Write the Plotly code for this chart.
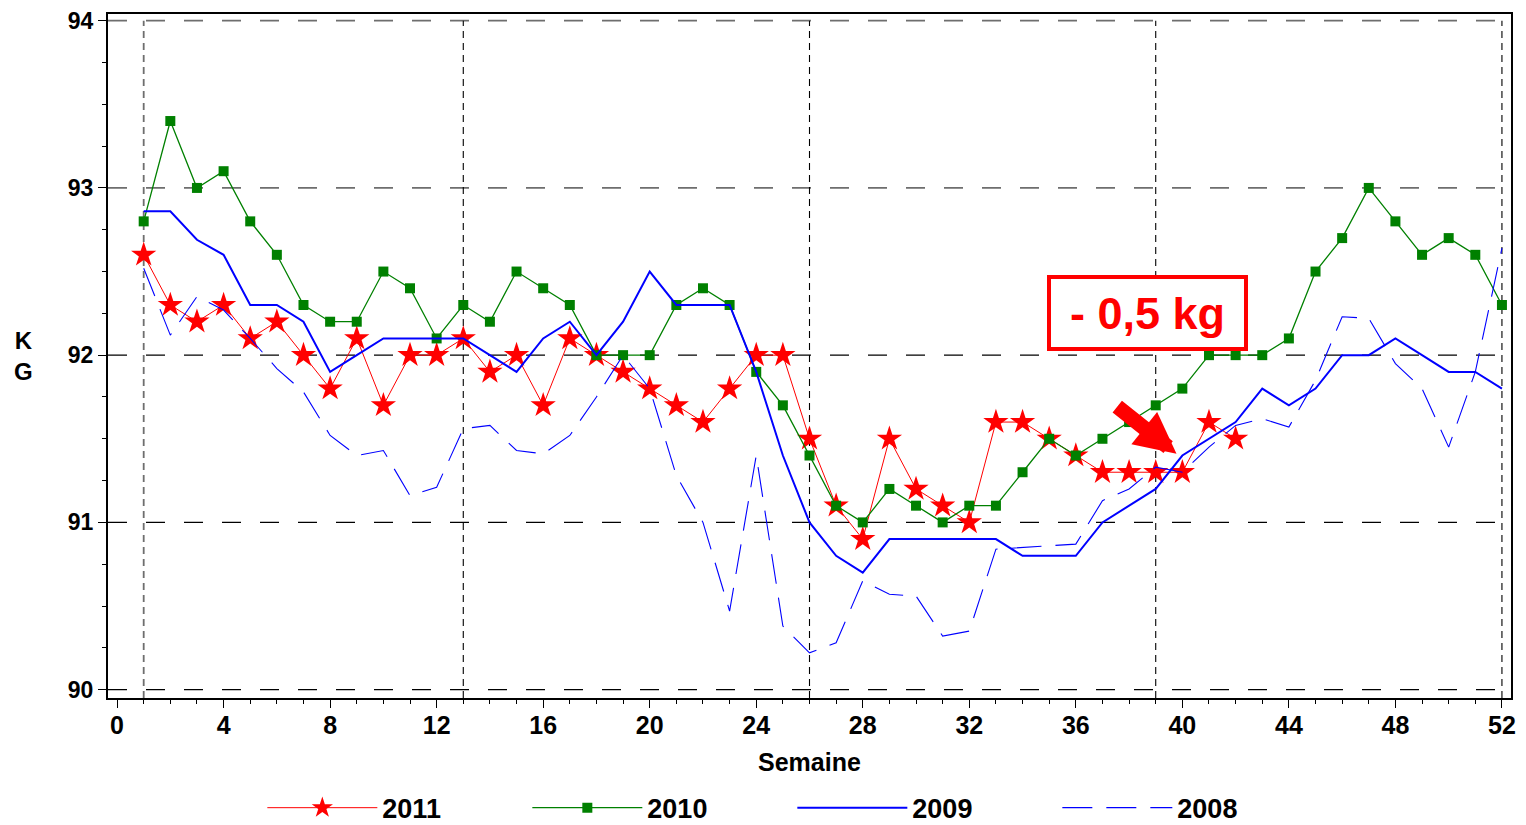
import plotly.graph_objects as go

weeks_2011 = list(range(1, 43))
kg_2011 = [92.6, 92.3, 92.2, 92.3, 92.1, 92.2, 92.0, 91.8, 92.1, 91.7,
           92.0, 92.0, 92.1, 91.9, 92.0, 91.7, 92.1, 92.0, 91.9, 91.8,
           91.7, 91.6, 91.8, 92.0, 92.0, 91.5, 91.1, 90.9, 91.5, 91.2,
           91.1, 91.0, 91.6, 91.6, 91.5, 91.4, 91.3, 91.3, 91.3, 91.3,
           91.6, 91.5]

weeks_full = list(range(1, 53))
kg_2010 = [92.8, 93.4, 93.0, 93.1, 92.8, 92.6, 92.3, 92.2, 92.2, 92.5,
           92.4, 92.1, 92.3, 92.2, 92.5, 92.4, 92.3, 92.0, 92.0, 92.0,
           92.3, 92.4, 92.3, 91.9, 91.7, 91.4, 91.1, 91.0, 91.2, 91.1,
           91.0, 91.1, 91.1, 91.3, 91.5, 91.4, 91.5, 91.6, 91.7, 91.8,
           92.0, 92.0, 92.0, 92.1, 92.5, 92.7, 93.0, 92.8, 92.6, 92.7,
           92.6, 92.3]

kg_2009 = [92.86, 92.86, 92.69, 92.6, 92.3, 92.3, 92.2, 91.9, 92.0, 92.1,
           92.1, 92.1, 92.1, 92.0, 91.9, 92.1, 92.2, 92.0, 92.2, 92.5,
           92.3, 92.3, 92.3, 91.9, 91.4, 91.0, 90.8, 90.7, 90.9, 90.9,
           90.9, 90.9, 90.9, 90.8, 90.8, 90.8, 91.0, 91.1, 91.2, 91.4,
           91.5, 91.6, 91.8, 91.7, 91.8, 92.0, 92.0, 92.1, 92.0, 91.9,
           91.9, 91.8]

kg_2008 = [92.52, 92.12, 92.35, 92.27, 92.1, 91.92, 91.78, 91.52, 91.4, 91.43,
           91.16, 91.21, 91.56, 91.58, 91.43, 91.41, 91.52, 91.75, 92.0, 91.8,
           91.28, 91.0, 90.47, 91.4, 90.38, 90.22, 90.28, 90.65, 90.57, 90.56,
           90.32, 90.35, 90.84, 90.85, 90.86, 90.87, 91.13, 91.2, 91.33, 91.3,
           91.45, 91.58, 91.62, 91.57, 91.85, 92.23, 92.22, 91.95, 91.8, 91.45,
           91.9, 92.64]

x_ticks = list(range(0, 53, 4))
y_ticks = [90, 91, 92, 93, 94]
quarter_weeks = [1, 13, 26, 39, 52]

FONT = "Liberation Sans, Arial, sans-serif"
Y_MIN, Y_MAX = 89.95, 94.04

fig = go.Figure()
fig.add_trace(go.Scatter(x=weeks_2011, y=kg_2011, name="2011", mode="lines+markers",
                         line=dict(color="#ff0000", width=1),
                         marker=dict(symbol="star", size=19, color="#ff0000",
                                     line=dict(width=0))))
fig.add_trace(go.Scatter(x=weeks_full, y=kg_2010, name="2010", mode="lines+markers",
                         line=dict(color="#008000", width=1.3),
                         marker=dict(symbol="square", size=10, color="#008000",
                                     line=dict(width=0))))
fig.add_trace(go.Scatter(x=weeks_full, y=kg_2009, name="2009", mode="lines",
                         line=dict(color="#0000ff", width=2)))
fig.add_trace(go.Scatter(x=weeks_full, y=kg_2008, name="2008", mode="lines",
                         line=dict(color="#0000ff", width=1.1, dash="30px,14px")))

shapes = []
for v in y_ticks:
    col = "#6e6e6e" if v >= 93 else "#000000"
    wid = 1.8 if v >= 93 else 1.3
    shapes.append(dict(type="line", xref="paper", yref="y", x0=0, x1=0.995, y0=v, y1=v,
                       line=dict(color=col, width=wid, dash="19px,19px"), layer="below"))
for w in quarter_weeks:
    col = "#6e6e6e" if w == 1 else "#000000"
    wid = 1.8 if w == 1 else 1.1
    shapes.append(dict(type="line", xref="x", yref="paper", x0=w, x1=w, y0=0,
                       y1=(94 - Y_MIN) / (Y_MAX - Y_MIN),
                       line=dict(color=col, width=wid, dash="7px,5px"), layer="below"))

annotations = [
    dict(text="K<br>G", xref="paper", yref="paper", x=-0.06, y=0.5, xanchor="center",
         yanchor="middle", showarrow=False,
         font=dict(family=FONT, size=24, color="black", weight="bold"), align="center"),
    dict(text="Semaine", xref="paper", yref="paper", x=0.5, y=-0.094, xanchor="center",
         yanchor="middle", showarrow=False,
         font=dict(family=FONT, size=25, color="black", weight="bold")),
    dict(text="- 0,5 kg", xref="x", yref="y", x=38.7, y=92.255, showarrow=False,
         font=dict(family=FONT, size=45, color="#ff0000", weight="bold"),
         bordercolor="#ff0000", borderwidth=4, borderpad=0, width=193, height=68,
         bgcolor="white"),
    dict(text="", xref="x", yref="y", axref="x", ayref="y", x=39.78, y=91.41,
         ax=37.5, ay=91.7, showarrow=True, arrowhead=2, arrowsize=0.55,
         arrowwidth=15, arrowcolor="#ff0000", standoff=0),
]

fig.update_layout(
    width=1518, height=817,
    margin=dict(l=100, r=15, t=6, b=127, autoexpand=False),
    paper_bgcolor="white", plot_bgcolor="white",
    font=dict(family=FONT, size=24, color="black"),
    showlegend=True,
    legend=dict(orientation="h", x=0.11, y=-0.161, xanchor="left", yanchor="middle",
                font=dict(family=FONT, size=27, color="black", weight="bold"),
                itemwidth=110, entrywidth=140, entrywidthmode="pixels",
                tracegroupgap=0, bgcolor="rgba(0,0,0,0)"),
    shapes=shapes,
    annotations=annotations,
)
fig.update_xaxes(range=[-0.34, 52.34], tickvals=x_ticks, ticktext=[str(v) for v in x_ticks],
                 ticks="outside", ticklen=8, tickwidth=1.3, tickcolor="black",
                 minor=dict(dtick=1, ticks="outside", ticklen=4, tickcolor="black", tickwidth=1),
                 showgrid=False, zeroline=False, showline=True, linecolor="black", linewidth=2,
                 mirror=True, automargin=False, ticklabeloverflow="allow", ticklabelstandoff=-4,
                 tickfont=dict(family=FONT, size=25, color="black", weight="bold"))
fig.update_yaxes(range=[Y_MIN, Y_MAX], tickvals=y_ticks, ticktext=[str(v) for v in y_ticks],
                 ticks="outside", ticklen=8, tickwidth=1.3, tickcolor="black",
                 minor=dict(dtick=0.25, tick0=90, ticks="outside", ticklen=4, tickcolor="black", tickwidth=1),
                 showgrid=False, zeroline=False, showline=True, linecolor="black", linewidth=2,
                 mirror=True, automargin=False, ticklabeloverflow="allow",
                 tickfont=dict(family=FONT, size=23, color="black", weight="bold"))

fig.write_html("out.html")
